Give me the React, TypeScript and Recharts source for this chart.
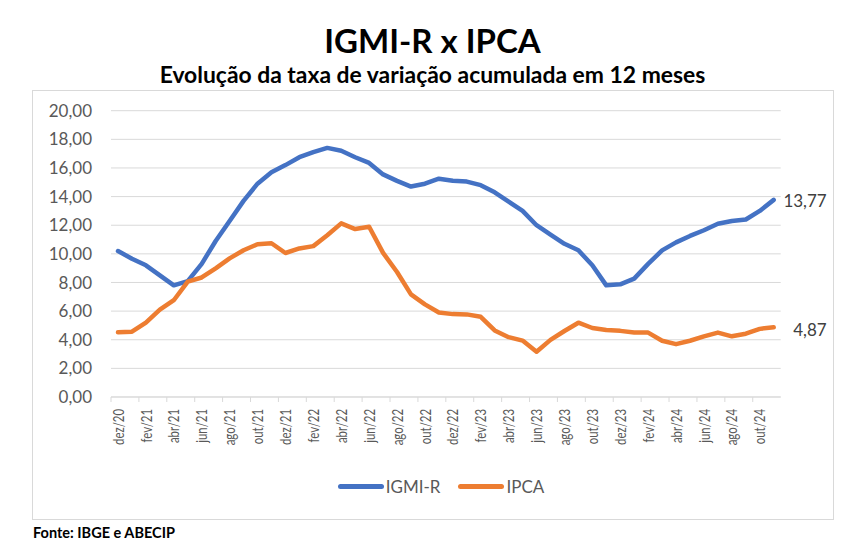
import React from 'react';
import { LineChart, Line, XAxis, YAxis, CartesianGrid, Legend, LabelList } from 'recharts';

const months = [
  'dez/20', 'jan/21', 'fev/21', 'mar/21', 'abr/21', 'mai/21', 'jun/21', 'jul/21', 'ago/21', 'set/21', 'out/21', 'nov/21',
  'dez/21', 'jan/22', 'fev/22', 'mar/22', 'abr/22', 'mai/22', 'jun/22', 'jul/22', 'ago/22', 'set/22', 'out/22', 'nov/22',
  'dez/22', 'jan/23', 'fev/23', 'mar/23', 'abr/23', 'mai/23', 'jun/23', 'jul/23', 'ago/23', 'set/23', 'out/23', 'nov/23',
  'dez/23', 'jan/24', 'fev/24', 'mar/24', 'abr/24', 'mai/24', 'jun/24', 'jul/24', 'ago/24', 'set/24', 'out/24', 'nov/24',
];

const igmiR = [
  10.2, 9.66, 9.2, 8.5, 7.8, 8.1, 9.3, 10.9, 12.3, 13.7, 14.9, 15.7,
  16.2, 16.75, 17.1, 17.4, 17.2, 16.75, 16.35, 15.55, 15.1, 14.7, 14.9, 15.25,
  15.1, 15.05, 14.8, 14.3, 13.65, 13.0, 12.0, 11.35, 10.7, 10.25, 9.2, 7.8,
  7.87, 8.27, 9.3, 10.24, 10.8, 11.25, 11.65, 12.1, 12.3, 12.4, 13.0, 13.77,
];

const ipca = [
  4.52, 4.56, 5.2, 6.1, 6.76, 8.06, 8.35, 8.99, 9.68, 10.25, 10.67, 10.74,
  10.06, 10.38, 10.54, 11.3, 12.13, 11.73, 11.89, 10.07, 8.73, 7.17, 6.47, 5.9,
  5.79, 5.77, 5.6, 4.65, 4.18, 3.94, 3.16, 3.99, 4.61, 5.19, 4.82, 4.68,
  4.62, 4.51, 4.5, 3.93, 3.69, 3.93, 4.23, 4.5, 4.24, 4.42, 4.76, 4.87,
];

const yTicks = [0, 2, 4, 6, 8, 10, 12, 14, 16, 18, 20];

const data = months.map((m, i) => ({ month: m, igmiR: igmiR[i], ipca: ipca[i] }));

const BLUE = '#4472C4';
const ORANGE = '#ED7D31';
const GRID = '#D9D9D9';
const FONT = 'Lato, "Open Sans", sans-serif';
const HALF_STEP = 7;

const fmt = (v: number) => v.toFixed(2).replace('.', ',');

const MonthTick = (props: any) => {
  const { x, y, payload } = props;
  return (
    <g>
      <line x1={x - HALF_STEP} y1={y} x2={x - HALF_STEP} y2={y + 5} stroke={GRID} />
      <text
        x={0}
        y={0}
        transform={`translate(${x},${y + 12}) rotate(-90) scale(0.76,1)`}
        textAnchor="end"
        dominantBaseline="central"
        fontSize={15}
        fill="#595959"
        fontFamily={FONT}
      >
        {payload.value}
      </text>
    </g>
  );
};

const endLabel = (dx: number, dy: number) => (props: any) => {
  const { x, y, value, index } = props;
  if (index !== data.length - 1) return null;
  return (
    <text x={x + dx} y={y + dy} textAnchor="end" dominantBaseline="central" fontSize={17} fill="#404040" fontFamily={FONT}>
      {fmt(value)}
    </text>
  );
};

const LegendBox = () => (
  <div style={{ display: 'flex', justifyContent: 'center', alignItems: 'center', fontFamily: FONT, fontSize: 17, color: '#595959' }}>
    <span style={{ display: 'inline-block', width: 46, height: 5, borderRadius: 3, background: BLUE, marginRight: 2 }} />
    <span style={{ marginRight: 18 }}>IGMI-R</span>
    <span style={{ display: 'inline-block', width: 46, height: 5, borderRadius: 3, background: ORANGE, marginRight: 2 }} />
    <span>IPCA</span>
  </div>
);

export default function App() {
  return (
    <div style={{ position: 'absolute', left: 0, top: 0, width: 850, height: 556, background: '#fff', fontFamily: FONT }}>
      <div style={{ position: 'absolute', left: 32, width: 801, top: 20, textAlign: 'center', fontSize: 33, fontWeight: 700, color: '#000', lineHeight: '40px' }}>
        IGMI-R x IPCA
      </div>
      <div style={{ position: 'absolute', left: 32, width: 801, top: 61, textAlign: 'center', fontSize: 22, fontWeight: 700, color: '#000', lineHeight: '28px', transform: 'scaleX(1.04)' }}>
        Evolução da taxa de variação acumulada em 12 meses
      </div>
      <div style={{ position: 'absolute', left: 32, top: 90, width: 800, height: 428, border: `1px solid ${GRID}` }} />
      <div style={{ position: 'absolute', left: 32, top: 90 }}>
        <LineChart width={801} height={429} data={data} margin={{ top: 20.7, right: 52.3, left: 0, bottom: 19 }}>
          <CartesianGrid vertical={false} stroke={GRID} />
          <XAxis
            dataKey="month"
            interval={1}
            tick={<MonthTick />}
            tickLine={false}
            tickSize={0}
            tickMargin={0}
            axisLine={{ stroke: GRID }}
            padding={{ left: HALF_STEP, right: HALF_STEP }}
            height={79}
          />
          <YAxis
            domain={[0, 20]}
            ticks={yTicks}
            tickFormatter={fmt}
            axisLine={false}
            tickLine={false}
            tickSize={0}
            tickMargin={19}
            width={79}
            tick={{ fontSize: 17, fill: '#595959', fontFamily: FONT }}
          />
          <Legend verticalAlign="bottom" content={<LegendBox />} wrapperStyle={{ left: 0, width: 818, height: 24 }} />
          <Line
            dataKey="igmiR"
            name="IGMI-R"
            stroke={BLUE}
            strokeWidth={4.5}
            dot={false}
            strokeLinejoin="round"
            strokeLinecap="round"
            isAnimationActive={false}
          >
            <LabelList content={endLabel(53, 1)} />
          </Line>
          <Line
            dataKey="ipca"
            name="IPCA"
            stroke={ORANGE}
            strokeWidth={4.5}
            dot={false}
            strokeLinejoin="round"
            strokeLinecap="round"
            isAnimationActive={false}
          >
            <LabelList content={endLabel(53, 2)} />
          </Line>
        </LineChart>
      </div>
      <div style={{ position: 'absolute', left: 33, top: 522, fontSize: 14.5, fontWeight: 700, color: '#000', lineHeight: '22px' }}>
        Fonte: IBGE e ABECIP
      </div>
    </div>
  );
}
